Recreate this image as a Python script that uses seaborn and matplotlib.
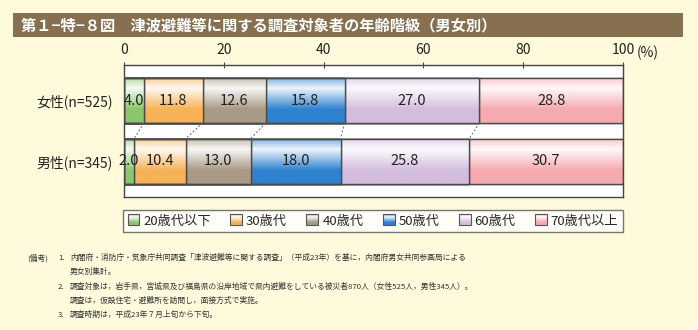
import numpy as np
import pandas as pd
import matplotlib
matplotlib.use("Agg")
import matplotlib.pyplot as plt
import matplotlib.patches as mpatches
from matplotlib.legend_handler import HandlerBase
import seaborn as sns

# ---- data ----
groups = ["女性(n=525)", "男性(n=345)"]
age_classes = ["20歳代以下", "30歳代", "40歳代", "50歳代", "60歳代", "70歳代以上"]
female = [4.0, 11.8, 12.6, 15.8, 27.0, 28.8]
male = [2.0, 10.4, 13.0, 18.0, 25.8, 30.7]
x_ticks = [0, 20, 40, 60, 80, 100]
colors = ["#8cc66c", "#f7b257", "#a89a86", "#2f82cf", "#d3bcdc", "#f5aab0"]

sns.set_theme(style="white")
plt.rcParams['font.family'] = ['Noto Sans CJK JP', 'DejaVu Sans']

W, H = 698, 330
BG = "#fffadc"
fig = plt.figure(figsize=(W / 100, H / 100), dpi=100, facecolor=BG)

def fx(px):
    return px / W

def fy(py):
    return 1 - py / H

# title bar
fig.patches.append(mpatches.Rectangle((fx(13), fy(37)), fx(683) - fx(13), fy(13) - fy(37),
                                      transform=fig.transFigure, facecolor="#86704f",
                                      edgecolor="none", zorder=0))
fig.text(fx(21), fy(25.5), "第１−特−８図　津波避難等に関する調査対象者の年齢階級（男女別）",
         color="white", fontsize=11, fontweight="bold", va="center", ha="left")

# axes
ax = fig.add_axes([fx(124), fy(197), fx(623) - fx(124), fy(65) - fy(197)])
ax.set_facecolor("white")

df = pd.DataFrame({"group": groups * len(age_classes),
                   "age": np.repeat(age_classes, len(groups)),
                   "value": [v for pair in zip(female, male) for v in pair]})
df["cum"] = df.groupby("group", sort=False)["value"].cumsum()

bar_h = 45 / 60.5
for i in reversed(range(len(age_classes))):
    sub = df[df["age"] == age_classes[i]]
    sns.barplot(data=sub, y="group", x="cum", orient="h", order=groups,
                color=colors[i], width=bar_h, edgecolor="#4a4a4a", linewidth=1.0,
                saturation=1, ax=ax, errorbar=None)

def grad_colors(c, n=64):
    base = np.array(matplotlib.colors.to_rgb(c))
    t = np.linspace(0, 1, n)
    w = np.interp(t, [0, 0.22, 0.7, 1], [0.6, 0.08, 1.0, 1.0])
    return (1 - w)[:, None] * np.ones(3)[None, :] + w[:, None] * base[None, :]

patches = list(ax.patches)
for k, p in enumerate(patches):
    ci = len(age_classes) - 1 - k // len(groups)
    x0, y0, w, h = p.get_x(), p.get_y(), p.get_width(), p.get_height()
    ax.imshow(grad_colors(colors[ci])[:, None, :], extent=(x0, x0 + w, y0 + h, y0),
              aspect="auto", origin="upper", zorder=p.get_zorder() + 0.01 + 0.1 * k,
              clip_path=p, clip_on=True)
    p.set_zorder(p.get_zorder() + 0.1 * k)
    ax.add_patch(mpatches.Rectangle((x0, y0), w, h, fill=False, edgecolor="#4a4a4a",
                                    linewidth=1.0, zorder=p.get_zorder() + 0.05 + 0.1 * k))

for gi, vals in enumerate([female, male]):
    left = 0
    for v in vals:
        ax.text(left + v / 2, gi, f"{v:.1f}", ha="center", va="center",
                fontsize=10.5, color="#222222", zorder=20)
        left += v

cf = np.cumsum(female)[:-1]
cm = np.cumsum(male)[:-1]
for a, b in zip(cf, cm):
    ax.plot([a, b], [bar_h / 2, 1 - bar_h / 2], ls=(0, (2, 2)), color="#666666",
            lw=0.7, zorder=5)

ax.set_xlim(0, 100)
ax.set_ylim(1 + 0.595, -0.587)
ax.xaxis.tick_top()
ax.set_xticks(x_ticks)
ax.set_xticklabels([str(t) for t in x_ticks], fontsize=10, color="#222222")
ax.tick_params(axis="x", direction="inout", length=5, width=0.8, color="#444444", pad=3, top=True, bottom=False)
ax.tick_params(axis="y", length=0, pad=8, labelsize=10, labelcolor="#222222")
ax.set_xlabel("")
ax.set_ylabel("")
for s in ax.spines.values():
    s.set_color("#444444")
    s.set_linewidth(1.0)
ax.text(102.8, 1.0 + 13 / 132 * 0.35, "(%)", transform=ax.get_xaxis_transform(),
        fontsize=10, color="#222222", ha="left", va="bottom")

# legend with gradient handles
class GradHandler(HandlerBase):
    def create_artists(self, legend, orig_handle, xdescent, ydescent, width, height, fontsize, trans):
        cols = grad_colors(orig_handle.get_facecolor(), n=12)
        arts = []
        n = len(cols)
        for j, c in enumerate(cols):
            yy = -ydescent + height * (1 - (j + 1) / n)
            arts.append(mpatches.Rectangle((-xdescent, yy), width, height / n + 0.2,
                                           facecolor=c, edgecolor="none", transform=trans))
        arts.append(mpatches.Rectangle((-xdescent, -ydescent), width, height, fill=False,
                                       edgecolor="#555555", linewidth=0.8, transform=trans))
        return arts

handles = [mpatches.Patch(facecolor=c) for c in colors]
leg = fig.legend(handles, age_classes, ncol=6, loc="center",
                 bbox_to_anchor=(fx(123), fy(234), fx(623) - fx(123), fy(208) - fy(234)),
                 mode="expand", frameon=True, fancybox=False, fontsize=9.5,
                 handlelength=0.9, handleheight=0.9, handletextpad=0.3,
                 borderaxespad=0, borderpad=0.35, columnspacing=1.0,
                 handler_map={mpatches.Patch: GradHandler()})
leg.get_frame().set_edgecolor("#555555")
leg.get_frame().set_linewidth(1.0)
leg.get_frame().set_facecolor("white")

# notes
nfs = 5.6
ncol = "#333333"
fig.text(fx(27), fy(258), "(備考)", fontsize=nfs, color=ncol, va="center")
notes = [
    (258, "1.", "内閣府・消防庁・気象庁共同調査「津波避難等に関する調査」（平成23年）を基に，内閣府男女共同参画局による"),
    (272, "", "男女別集計。"),
    (287, "2.", "調査対象は，岩手県，宮城県及び福島県の沿岸地域で県内避難をしている被災者870人（女性525人，男性345人）。"),
    (301, "", "調査は，仮設住宅・避難所を訪問し，面接方式で実施。"),
    (315, "3.", "調査時期は，平成23年７月上旬から下旬。"),
]
for y, num, txt in notes:
    if num:
        fig.text(fx(58), fy(y), num, fontsize=nfs, color=ncol, va="center")
    fig.text(fx(70), fy(y), txt, fontsize=nfs, color=ncol, va="center")

fig.savefig("out.png", dpi=100, facecolor=BG)
